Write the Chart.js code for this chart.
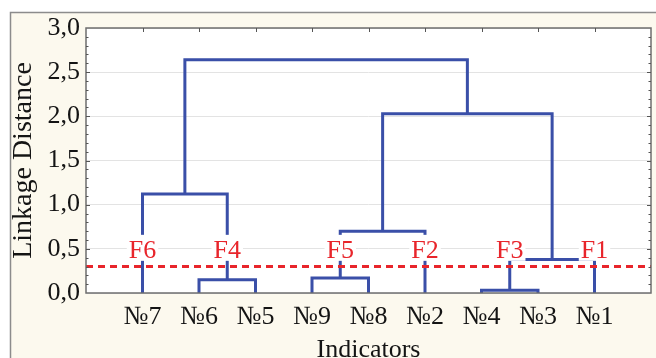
<!DOCTYPE html>
<html>
<head>
<meta charset="utf-8">
<script src="https://cdn.jsdelivr.net/npm/chart.js@4.4.1/dist/chart.umd.min.js"></script>
<style>
  html, body { margin: 0; padding: 0; background: #fff; }
  #wrap { width: 656px; height: 358px; position: relative; }
</style>
</head>
<body>
<div id="wrap"><canvas id="chart" width="656" height="358"></canvas></div>
<script>
// Dendrogram of indicators (linkage distance)

const leaves = ['№7','№6','№5','№9','№8','№2','№4','№3','№1'];

// each merge joins two nodes (leaf or earlier cluster) at a height
const mergeNames  = ['C1','C2','C3','C4','C5','C6','C7','C8'];
const mergeLeft   = ['№6','№9','№4','№7','C2','C3','C5','C4'];
const mergeRight  = ['№5','№8','№3','C1','№2','№1','C6','C7'];
const mergeHeight = [0.15, 0.17, 0.03, 1.12, 0.70, 0.38, 2.03, 2.64];

const factorLabels = ['F6','F4','F5','F2','F3','F1'];
const factorNodes  = ['№7','C1','C2','№2','C3','№1'];
const labelLevel = 0.5;
const cutoff = 0.3;

const yTicks = [0, 0.5, 1.0, 1.5, 2.0, 2.5, 3.0];

const BLUE = '#3a4fa8';
const RED = '#e8252b';
const SERIF = '"Liberation Serif", "Times New Roman", serif';

// node positions
var nodeX = {}, nodeH = {};
leaves.forEach((l, i) => { nodeX[l] = i + 1; nodeH[l] = 0; });
mergeNames.forEach((m, i) => {
    nodeX[m] = (nodeX[mergeLeft[i]] + nodeX[mergeRight[i]]) / 2;
    nodeH[m] = mergeHeight[i];
});

var datasets = [];
datasets.push({
    data: [{x: 0, y: cutoff}, {x: leaves.length + 1, y: cutoff}],
    borderColor: RED,
    borderWidth: 3,
    borderDash: [7, 5],
    pointRadius: 0
});
mergeNames.forEach((m, i) => {
    var a = mergeLeft[i], b = mergeRight[i];
    datasets.push({
        data: [
            {x: nodeX[a], y: nodeH[a]},
            {x: nodeX[a], y: mergeHeight[i]},
            {x: nodeX[b], y: mergeHeight[i]},
            {x: nodeX[b], y: nodeH[b]}
        ],
        borderColor: BLUE,
        borderWidth: 3,
        borderJoinStyle: 'miter',
        pointRadius: 0,
        tension: 0
    });
});

const framePlugin = {
    id: 'frame',
    beforeDraw(chart) {
        var c = chart.ctx;
        c.save();
        c.fillStyle = '#ffffff';
        c.fillRect(0, 0, chart.width, chart.height);
        c.fillStyle = '#fcf9ee';
        c.fillRect(10, 12, chart.width, chart.height);
        c.strokeStyle = '#8c8c8c';
        c.lineWidth = 1.5;
        c.strokeRect(10.5, 12.5, chart.width + 10, chart.height + 10);
        var a = chart.chartArea;
        c.fillStyle = '#ffffff';
        c.fillRect(a.left, a.top, a.right - a.left, a.bottom - a.top);
        c.restore();
    },
    afterDatasetsDraw(chart) {
        var c = chart.ctx, a = chart.chartArea;
        var xs = chart.scales.x, ys = chart.scales.y;
        c.save();
        // plot border
        c.strokeStyle = '#6e6e6e';
        c.lineWidth = 1.5;
        c.strokeRect(a.left, a.top, a.right - a.left, a.bottom - a.top);
        // small inside ticks
        c.lineWidth = 1;
        c.strokeStyle = '#555';
        for (var k = 1; k < 30; k++) {
            var py = Math.round(ys.getPixelForValue(k / 10)) + 0.5;
            var len = (k % 5 === 0) ? 4 : 2.5;
            c.beginPath();
            c.moveTo(a.left, py); c.lineTo(a.left + len, py);
            c.moveTo(a.right, py); c.lineTo(a.right - len, py);
            c.stroke();
        }
        leaves.forEach((l, i) => {
            var px = Math.round(xs.getPixelForValue(i + 1)) + 0.5;
            c.beginPath();
            c.moveTo(px, a.top); c.lineTo(px, a.top + 4);
            c.stroke();
        });
        // factor labels
        c.font = '26px ' + SERIF;
        c.textAlign = 'center';
        c.textBaseline = 'alphabetic';
        factorLabels.forEach((f, i) => {
            var px = xs.getPixelForValue(nodeX[factorNodes[i]]);
            var py = ys.getPixelForValue(labelLevel);
            var w = c.measureText(f).width + 4;
            c.fillStyle = '#ffffff';
            c.fillRect(px - w / 2, py - 14, w, 26);
            c.fillStyle = RED;
            c.fillText(f, px, py + 9);
        });
        c.restore();
    }
};

new Chart(document.getElementById('chart'), {
    type: 'line',
    data: { datasets: datasets },
    plugins: [framePlugin],
    options: {
        responsive: false,
        animation: false,
        layout: { padding: { left: 10, top: 28, right: 5, bottom: 0 } },
        plugins: { legend: { display: false }, tooltip: { enabled: false } },
        scales: {
            x: {
                type: 'linear',
                min: 0,
                max: leaves.length + 1,
                afterBuildTicks: (s) => { s.ticks = leaves.map((l, i) => ({ value: i + 1 })); },
                afterFit: (s) => { s.height = 65; },
                grid: { display: false, drawTicks: false },
                border: { display: false },
                ticks: {
                    autoSkip: false,
                    maxRotation: 0,
                    padding: 9,
                    color: '#141414',
                    font: { family: SERIF, size: 26 },
                    callback: (v) => leaves[v - 1]
                },
                title: {
                    display: true,
                    text: 'Indicators',
                    color: '#141414',
                    font: { family: SERIF, size: 26, lineHeight: 1 },
                    padding: { top: 0, bottom: -5 }
                }
            },
            y: {
                type: 'linear',
                min: 0,
                max: 3,
                afterBuildTicks: (s) => { s.ticks = yTicks.map(v => ({ value: v })); },
                afterFit: (s) => { s.width = 76; },
                grid: { color: '#e3e3e3', lineWidth: 1, drawTicks: false },
                border: { display: false },
                ticks: {
                    padding: 6,
                    color: '#141414',
                    font: { family: SERIF, size: 26 },
                    callback: (v) => v.toFixed(1).replace('.', ',')
                },
                title: {
                    display: true,
                    text: 'Linkage Distance',
                    color: '#141414',
                    font: { family: SERIF, size: 28, lineHeight: 1 },
                    padding: { top: 0, bottom: 0 }
                }
            }
        }
    }
});
</script>
</body>
</html>
